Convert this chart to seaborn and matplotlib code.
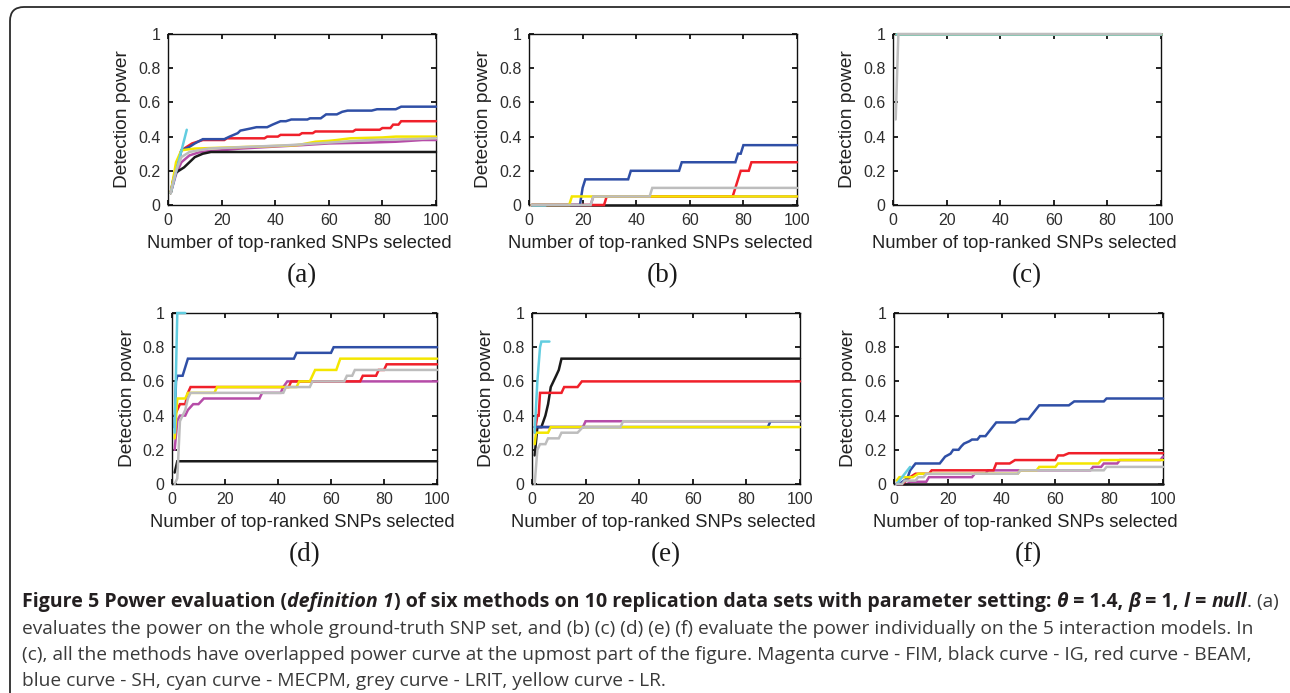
import numpy as np
import pandas as pd
import matplotlib
matplotlib.use("Agg")
import matplotlib.pyplot as plt
import matplotlib.transforms as mtransforms
from matplotlib.patches import FancyBboxPatch
import seaborn as sns

# ---------------- data ----------------
METHODS = ["FIM", "IG", "BEAM", "SH", "LR", "MECPM", "LRIT"]   # drawing order
COLORS = {"FIM": "#b64ca8", "IG": "#1a1a1a", "BEAM": "#f0202a", "SH": "#2f4fa6",
          "MECPM": "#62cde0", "LRIT": "#bdbdbd", "LR": "#f4e600"}

panel_a = {
    "FIM":   ([1, 3, 5, 8, 12, 20, 27, 38, 50, 60, 75, 85, 95, 100],
              [0.07, 0.18, 0.25, 0.29, 0.31, 0.32, 0.33, 0.34, 0.35, 0.36, 0.365, 0.37, 0.38, 0.38]),
    "IG":    ([1, 2, 3, 5, 6, 8, 10, 13, 16, 100],
              [0.07, 0.15, 0.19, 0.21, 0.22, 0.25, 0.28, 0.30, 0.31, 0.31]),
    "BEAM":  ([1, 3, 5, 9, 13, 21, 22, 36, 37, 41, 42, 49, 50, 54, 55, 69, 70, 79, 80, 83, 84, 86, 87, 100],
              [0.07, 0.22, 0.32, 0.36, 0.38, 0.38, 0.39, 0.39, 0.40, 0.40, 0.41, 0.41, 0.42, 0.42,
               0.43, 0.43, 0.44, 0.44, 0.45, 0.45, 0.47, 0.47, 0.49, 0.49]),
    "SH":    ([1, 5, 8, 10, 13, 21, 23, 26, 27, 31, 33, 37, 39, 42, 44, 46, 52, 53, 57, 59, 63, 65, 67, 76, 78, 85, 87, 100],
              [0.07, 0.32, 0.34, 0.36, 0.385, 0.385, 0.40, 0.42, 0.435, 0.448, 0.455, 0.455, 0.47, 0.49,
               0.49, 0.50, 0.50, 0.507, 0.507, 0.53, 0.53, 0.545, 0.552, 0.552, 0.56, 0.56, 0.575, 0.575]),
    "LR":    ([1, 3, 5, 10, 20, 30, 40, 48, 50, 55, 60, 63, 68, 80, 85, 100],
              [0.07, 0.25, 0.32, 0.33, 0.335, 0.34, 0.345, 0.35, 0.355, 0.37, 0.375, 0.38, 0.39, 0.395, 0.40, 0.40]),
    "MECPM": ([1, 7], [0.07, 0.44]),
    "LRIT":  ([1, 3, 5, 8, 15, 30, 45, 55, 65, 75, 90, 100],
              [0.07, 0.20, 0.28, 0.31, 0.33, 0.34, 0.35, 0.36, 0.37, 0.38, 0.385, 0.39]),
}

panel_b = {
    "FIM":   ([1, 23, 24, 100], [0, 0, 0.05, 0.05]),
    "IG":    ([1, 100], [0, 0]),
    "BEAM":  ([1, 28, 29, 76, 79, 82, 83, 100], [0, 0, 0.05, 0.05, 0.2, 0.2, 0.25, 0.25]),
    "SH":    ([1, 19, 20, 21, 37, 38, 56, 57, 77, 78, 79, 80, 100],
              [0, 0, 0.1, 0.15, 0.15, 0.2, 0.2, 0.25, 0.25, 0.3, 0.3, 0.35, 0.35]),
    "LR":    ([1, 15, 16, 100], [0, 0, 0.05, 0.05]),
    "MECPM": ([1, 6], [0, 0]),
    "LRIT":  ([1, 23, 24, 45, 46, 100], [0, 0, 0.05, 0.05, 0.1, 0.1]),
}

panel_c = {
    "FIM":   ([1, 100], [1, 1]),
    "IG":    ([1, 100], [1, 1]),
    "BEAM":  ([1, 100], [1, 1]),
    "SH":    ([1, 100], [1, 1]),
    "LR":    ([1, 100], [1, 1]),
    "MECPM": ([1, 100], [1, 1]),
    "LRIT":  ([1, 2, 100], [0.5, 1, 1]),
}

panel_d = {
    "FIM":   ([1, 2, 3, 5, 6, 8, 10, 12, 33, 34, 41, 42, 43.5, 100],
              [0.2, 0.37, 0.4, 0.4, 0.433, 0.467, 0.467, 0.5, 0.5, 0.533, 0.533, 0.567, 0.6, 0.6]),
    "IG":    ([1, 2, 100], [0.067, 0.133, 0.133]),
    "BEAM":  ([1, 3, 5, 6, 7, 44, 45, 71, 72, 77, 78, 80, 81, 100],
              [0.4, 0.467, 0.467, 0.533, 0.567, 0.567, 0.6, 0.6, 0.633, 0.633, 0.667, 0.667, 0.7, 0.7]),
    "SH":    ([1, 1.5, 2, 4, 6, 46, 47, 60, 61, 100],
              [0.33, 0.6, 0.633, 0.633, 0.733, 0.733, 0.767, 0.767, 0.8, 0.8]),
    "LR":    ([1, 2, 5, 6, 16, 17, 47, 48, 52, 54, 62, 63.5, 100],
              [0.267, 0.5, 0.5, 0.533, 0.533, 0.567, 0.567, 0.6, 0.6, 0.667, 0.667, 0.733, 0.733]),
    "MECPM": ([1, 2, 5], [0.3, 1, 1]),
    "LRIT":  ([1, 2, 3, 4, 5, 6, 7, 42, 43, 52, 53, 65, 66, 68, 69, 100],
              [0, 0.033, 0.367, 0.4, 0.433, 0.5, 0.533, 0.533, 0.567, 0.567, 0.6, 0.6, 0.633, 0.633, 0.667, 0.667]),
}

panel_e = {
    "FIM":   ([1, 19, 20, 100], [0.333, 0.333, 0.367, 0.367]),
    "IG":    ([1, 2, 3.5, 5, 6, 7, 8, 9, 10, 11, 100],
              [0.167, 0.333, 0.333, 0.4, 0.467, 0.567, 0.6, 0.633, 0.667, 0.733, 0.733]),
    "BEAM":  ([1, 2, 2.5, 3, 11, 12, 17, 18.6, 100],
              [0.3, 0.4, 0.4, 0.533, 0.533, 0.567, 0.567, 0.6, 0.6]),
    "SH":    ([1, 88, 89, 100], [0.333, 0.333, 0.367, 0.367]),
    "LR":    ([1, 1.5, 6, 7, 100], [0.233, 0.3, 0.3, 0.333, 0.333]),
    "MECPM": ([1, 2, 3, 3.5, 6.5], [0.3, 0.6, 0.8, 0.833, 0.833]),
    "LRIT":  ([1, 2, 3, 5, 6, 10, 11, 17, 19, 33, 34, 100],
              [0, 0.2, 0.233, 0.233, 0.267, 0.267, 0.3, 0.3, 0.333, 0.333, 0.367, 0.367]),
}

panel_f = {
    "FIM":   ([1, 5, 6, 12, 13, 29, 30, 34, 35, 73, 74, 77, 78, 83, 84, 99, 100],
              [0, 0, 0.013, 0.013, 0.04, 0.04, 0.06, 0.06, 0.08, 0.08, 0.1, 0.1, 0.12, 0.12, 0.14, 0.14, 0.16]),
    "IG":    ([1, 100], [0, 0]),
    "BEAM":  ([1, 3, 6, 8, 13, 14, 37, 38, 43, 45, 60, 61, 63, 65, 100],
              [0, 0, 0.04, 0.06, 0.06, 0.08, 0.08, 0.12, 0.12, 0.14, 0.14, 0.167, 0.167, 0.18, 0.18]),
    "SH":    ([1, 2, 5, 6, 8, 17, 18, 19, 21, 22, 24, 25, 26, 28, 29, 31, 32, 34, 35, 36, 37, 38,
               45, 47, 50, 52, 54, 65, 67, 78, 79, 100],
              [0, 0, 0.035, 0.08, 0.12, 0.12, 0.14, 0.16, 0.177, 0.2, 0.2, 0.22, 0.236, 0.25, 0.26, 0.26,
               0.28, 0.28, 0.3, 0.32, 0.34, 0.36, 0.36, 0.38, 0.38, 0.42, 0.46, 0.46, 0.483, 0.483, 0.5, 0.5]),
    "LR":    ([1, 2, 7, 9, 46, 47, 53, 54, 60, 61, 76, 77, 100],
              [0.02, 0.04, 0.04, 0.06, 0.06, 0.08, 0.08, 0.1, 0.1, 0.12, 0.12, 0.14, 0.14]),
    "MECPM": ([1, 6], [0, 0.1]),
    "LRIT":  ([1, 3, 4, 8, 9, 11, 12, 46, 47, 78, 79, 100],
              [0, 0, 0.02, 0.02, 0.04, 0.04, 0.06, 0.06, 0.08, 0.08, 0.1, 0.1]),
}

PANELS = [panel_a, panel_b, panel_c, panel_d, panel_e, panel_f]
PANEL_LABELS = ["(a)", "(b)", "(c)", "(d)", "(e)", "(f)"]
X_TICKS = [0, 20, 40, 60, 80, 100]
Y_TICKS = [0, 0.2, 0.4, 0.6, 0.8, 1.0]
Y_TICK_LABELS = ["0", "0.2", "0.4", "0.6", "0.8", "1"]
X_LABEL = "Number of top-ranked SNPs selected"
Y_LABEL = "Detection power"

# ---------------- figure ----------------
sns.set_theme(style="ticks")
plt.rcParams["font.family"] = ["Liberation Sans", "DejaVu Sans"]
plt.rcParams["axes.grid"] = False

W, H = 1290, 693
fig = plt.figure(figsize=(W / 100, H / 100), dpi=100)
fig.patch.set_facecolor("white")

# axes boxes in pixels: left, right, top, bottom
BOXES = [(168, 436, 34, 205), (529, 797, 34, 205), (893, 1161, 34, 205),
         (172, 437, 313, 484), (532, 800, 313, 484), (894, 1163, 313, 484)]

for panel, label, (l, r, t, b) in zip(PANELS, PANEL_LABELS, BOXES):
    ax = fig.add_axes([l / W, 1 - b / H, (r - l) / W, (b - t) / H])
    rows = []
    for m in METHODS:
        xs, ys = panel[m]
        rows.append(pd.DataFrame({"x": xs, "y": ys, "method": m}))
    df = pd.concat(rows, ignore_index=True)
    sns.lineplot(data=df, x="x", y="y", hue="method", hue_order=METHODS,
                 palette=COLORS, estimator=None, sort=False, legend=False,
                 linewidth=1.8, ax=ax)
    for ln in ax.get_lines():
        ln.set_clip_on(False)
        ln.set_zorder(3)
        ln.set_solid_joinstyle("miter")
    ax.set_xlim(0, 100)
    ax.set_ylim(0, 1)
    ax.set_xticks(X_TICKS)
    ax.set_xticklabels([str(v) for v in X_TICKS])
    ax.set_yticks(Y_TICKS)
    ax.set_yticklabels(Y_TICK_LABELS)
    ax.tick_params(direction="in", top=True, right=True, length=3.5, width=1.3,
                   color="#111111", labelcolor="#2e2e2e", labelsize=11.5, pad=5.5)
    for sp in ax.spines.values():
        sp.set_visible(True)
        sp.set_color("#111111")
        sp.set_linewidth(1.0)
    ax.set_xlabel(X_LABEL, fontsize=13.2, color="#222222", va="center")
    ax.xaxis.set_label_coords(0.49, -0.225)
    ax.set_ylabel(Y_LABEL, fontsize=13.8, color="#222222", va="center")
    ax.yaxis.set_label_coords(-0.168, 0.5)
    ax.set_facecolor("white")
    cx = (l + r) / 2
    cy = b + 71
    fig.text(cx / W, 1 - cy / H, label, ha="center", va="center",
             fontsize=19.5, family=["Liberation Serif", "DejaVu Serif"], color="#1a1a1a")

# rounded frame around the figure
frame = FancyBboxPatch((10, -30), 1310, H - 7 + 30,
                       boxstyle="round,pad=0,rounding_size=14",
                       transform=mtransforms.IdentityTransform(),
                       facecolor="none", edgecolor="#2b2b2b", linewidth=1.3)
fig.patches.append(frame)

# ---------------- caption ----------------
renderer = fig.canvas.get_renderer()
CAP_FAMILY = ["Open Sans", "DejaVu Sans"]
BOLD = dict(fontweight="bold", color="#231f20", fontsize=14.1)
BOLDIT = dict(fontweight="bold", style="italic", color="#231f20", fontsize=14.1)
NORMAL = dict(fontweight="normal", color="#3a3a3a", fontsize=13.75)


def seg_width(s, kw):
    t1 = fig.text(0, 0, "|" + s + "|", family=CAP_FAMILY, **kw)
    t2 = fig.text(0, 0, "||", family=CAP_FAMILY, **kw)
    w = t1.get_window_extent(renderer).width - t2.get_window_extent(renderer).width
    t1.remove()
    t2.remove()
    return w


def draw_line(segs, x0, y_base):
    x = x0
    for s, kw in segs:
        fig.text(x / W, 1 - y_base / H, s, ha="left", va="baseline",
                 family=CAP_FAMILY, **kw)
        x += seg_width(s, kw)


line1 = [("Figure 5 Power evaluation (", BOLD), ("definition 1", BOLDIT),
         (") of six methods on 10 replication data sets with parameter setting: ", BOLD),
         ("\u03b8", BOLDIT), (" = 1.4, ", BOLD), ("\u03b2", BOLDIT), (" = 1, ", BOLD),
         ("l", BOLDIT), (" = ", BOLD), ("null", BOLDIT), (". (a)", NORMAL)]
line2 = [("evaluates the power on the whole ground-truth SNP set, and (b) (c) (d) (e) (f) "
          "evaluate the power individually on the 5 interaction models. In", NORMAL)]
line3 = [("(c), all the methods have overlapped power curve at the upmost part of the figure. "
          "Magenta curve - FIM, black curve - IG, red curve - BEAM,", NORMAL)]
line4 = [("blue curve - SH, cyan curve - MECPM, grey curve - LRIT, yellow curve - LR.", NORMAL)]

for segs, yb in zip([line1, line2, line3, line4], [607, 634, 660, 686]):
    draw_line(segs, 22, yb)

fig.savefig("out.png", dpi=100, facecolor="white")
